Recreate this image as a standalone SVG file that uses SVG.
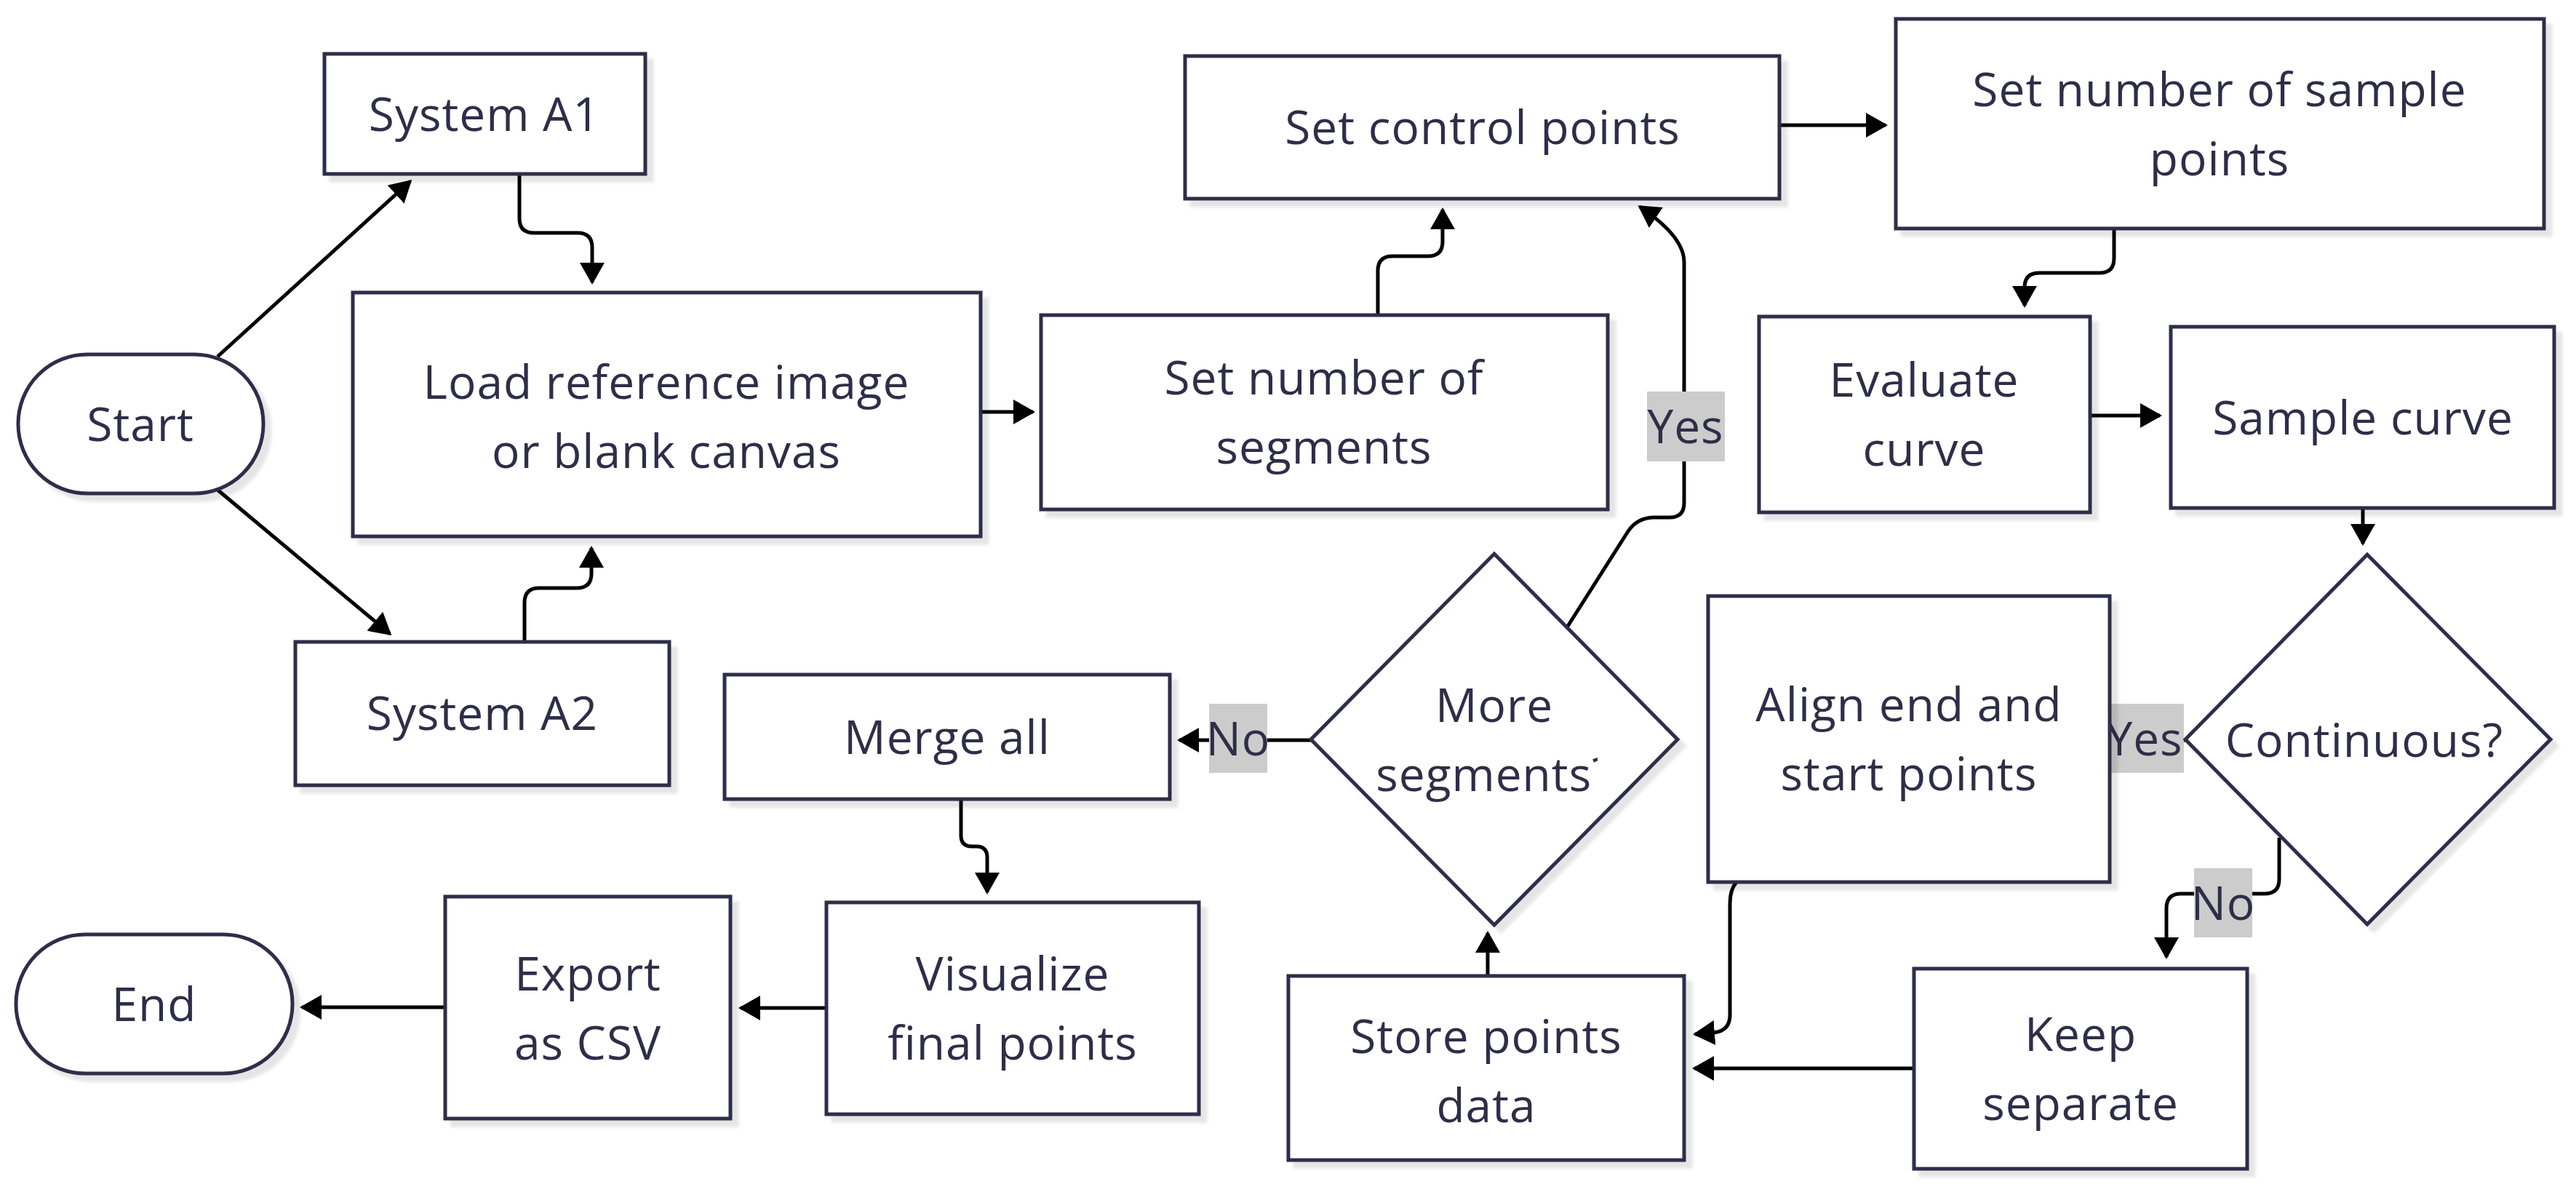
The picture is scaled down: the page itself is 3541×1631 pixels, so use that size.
<svg xmlns="http://www.w3.org/2000/svg" width="3541" height="1631" viewBox="0 0 3541 1631">
<style>
.node rect, .node polygon { fill:#ffffff; stroke:#2e2e48; stroke-width:5; filter:url(#sh); }
.node text, .lbl text { font-family:"Open Sans","Noto Sans","Liberation Sans",sans-serif; font-size:64px; fill:#2e2e48; text-anchor:middle; letter-spacing:1px; }
.edge { fill:none; stroke:#000000; stroke-width:5; marker-end:url(#arr); }
.lbl rect { fill:#cccccc; }
</style>
<defs>
<filter id="sh" x="-10%" y="-10%" width="130%" height="130%">
<feDropShadow dx="9" dy="9" stdDeviation="2" flood-color="#000000" flood-opacity="0.1"/>
</filter>
<marker id="arr" markerUnits="userSpaceOnUse" viewBox="0 0 30 34" markerWidth="30" markerHeight="34" refX="27" refY="17" orient="auto">
<path d="M0,0 L30,17 L0,34 z" fill="#000000"/>
</marker>
<clipPath id="clipMore"><rect x="1800" y="900" width="386" height="220"/><rect x="2186" y="900" width="10" height="158"/></clipPath>
</defs>
<rect x="0" y="0" width="3541" height="1631" fill="#ffffff"/>

<g id="edges">
<path class="edge" d="M299,490 L564,249"/>
<path class="edge" d="M299,673 L536,871"/>
<path class="edge" d="M714,239 L714,300 Q714,320 734,320 L794,320 Q814,320 814,340 L814,388"/>
<path class="edge" d="M721,880 L721,828 Q721,808 741,808 L793,808 Q813,808 813,788 L813,753"/>
<path class="edge" d="M1348,566 L1420,566"/>
<path class="edge" d="M1894,433 L1894,372 Q1894,352 1914,352 L1963,352 Q1983,352 1983,332 L1983,288"/>
<path class="edge" d="M2446,172 L2592,172"/>
<path class="edge" d="M2906,314 L2906,355 Q2906,375 2886,375 L2803,375 Q2783,375 2783,395 L2783,420"/>
<path class="edge" d="M2873,571 L2969,571"/>
<path class="edge" d="M3248,698 L3248,747"/>
<path class="edge" d="M3005,1017 L2912,1017"/>
<path class="edge" d="M3133,1151 L3133,1208 Q3133,1228 3113,1228 L2998,1228 Q2978,1228 2978,1248 L2978,1315"/>
<path class="edge" d="M2631,1468 L2329,1468"/>
<path class="edge" d="M2387,1212 Q2378,1222 2378,1242 L2378,1395 Q2378,1416 2356,1419 L2330,1421"/>
<path class="edge" d="M2045,1341 L2045,1282"/>
<path class="edge" d="M2154,862 L2238,730 Q2250,712 2272,711 L2295,711 Q2315,711 2315,691 L2315,360 Q2315,325 2254,284"/>
<path class="edge" d="M1802,1017 L1621,1017"/>
<path class="edge" d="M1321,1098 L1321,1148 Q1321,1163 1336,1163 L1342,1163 Q1357,1163 1357,1178 L1357,1226"/>
<path class="edge" d="M1136,1385 L1018,1385"/>
<path class="edge" d="M612,1384 L415,1384"/>
</g>

<g id="edge-labels">
<g class="lbl" id="lbl-yes-more"><rect x="2264" y="538" width="107" height="96"/><text x="2317" y="609">Yes</text></g>
<g class="lbl" id="lbl-no-more"><rect x="1662" y="967" width="80" height="95"/><text x="1702" y="1038">No</text></g>
<g class="lbl" id="lbl-yes-cont"><rect x="2894" y="967" width="108" height="95"/><text x="2948" y="1038">Yes</text></g>
<g class="lbl" id="lbl-no-cont"><rect x="3016" y="1193" width="80" height="95"/><text x="3056" y="1264">No</text></g>
</g>

<g id="start" class="node"><rect x="25" y="487" width="337" height="191" rx="95" ry="95"/><text x="193" y="606">Start</text></g>
<g id="systemA1" class="node"><rect x="446" y="74" width="441" height="165"/><text x="666" y="180">System A1</text></g>
<g id="systemA2" class="node"><rect x="406" y="882" width="514" height="197"/><text x="663" y="1003">System A2</text></g>
<g id="load" class="node"><rect x="485" y="402" width="863" height="335"/><text x="916" y="548">Load reference image</text><text x="916" y="643">or blank canvas</text></g>
<g id="setSegments" class="node"><rect x="1431" y="433" width="779" height="267"/><text x="1820" y="542">Set number of</text><text x="1820" y="637">segments</text></g>
<g id="setControl" class="node"><rect x="1629" y="77" width="817" height="196"/><text x="2038" y="198">Set control points</text></g>
<g id="setSample" class="node"><rect x="2606" y="26" width="891" height="288"/><text x="3051" y="146">Set number of sample</text><text x="3051" y="241">points</text></g>
<g id="evaluate" class="node"><rect x="2418" y="435" width="455" height="269"/><text x="2645" y="545">Evaluate</text><text x="2645" y="640">curve</text></g>
<g id="sampleCurve" class="node"><rect x="2984" y="449" width="527" height="249"/><text x="3248" y="597">Sample curve</text></g>
<g id="continuous" class="node"><polygon points="3254,762 3506,1016 3254,1270 3004,1016"/><text x="3250" y="1040">Continuous?</text></g>
<g id="align" class="node"><rect x="2348" y="819" width="552" height="393"/><text x="2624" y="991">Align end and</text><text x="2624" y="1086">start points</text></g>
<g id="keep" class="node"><rect x="2631" y="1331" width="458" height="275"/><text x="2860" y="1444">Keep</text><text x="2860" y="1539">separate</text></g>
<g id="store" class="node"><rect x="1771" y="1341" width="544" height="253"/><text x="2043" y="1447">Store points</text><text x="2043" y="1542">data</text></g>
<g id="moreSegments" class="node"><polygon points="2054,761 2306,1016 2054,1271 1802,1016"/><text x="2054" y="992">More</text><text x="2054" y="1087" clip-path="url(#clipMore)">segments?</text></g>
<g id="merge" class="node"><rect x="996" y="927" width="612" height="171"/><text x="1302" y="1036">Merge all</text></g>
<g id="visualize" class="node"><rect x="1136" y="1240" width="512" height="291"/><text x="1392" y="1361">Visualize</text><text x="1392" y="1456">final points</text></g>
<g id="export" class="node"><rect x="612" y="1232" width="392" height="305"/><text x="808" y="1361">Export</text><text x="808" y="1456">as CSV</text></g>
<g id="end" class="node"><rect x="22" y="1284" width="380" height="191" rx="95" ry="95"/><text x="212" y="1403">End</text></g>
</svg>
